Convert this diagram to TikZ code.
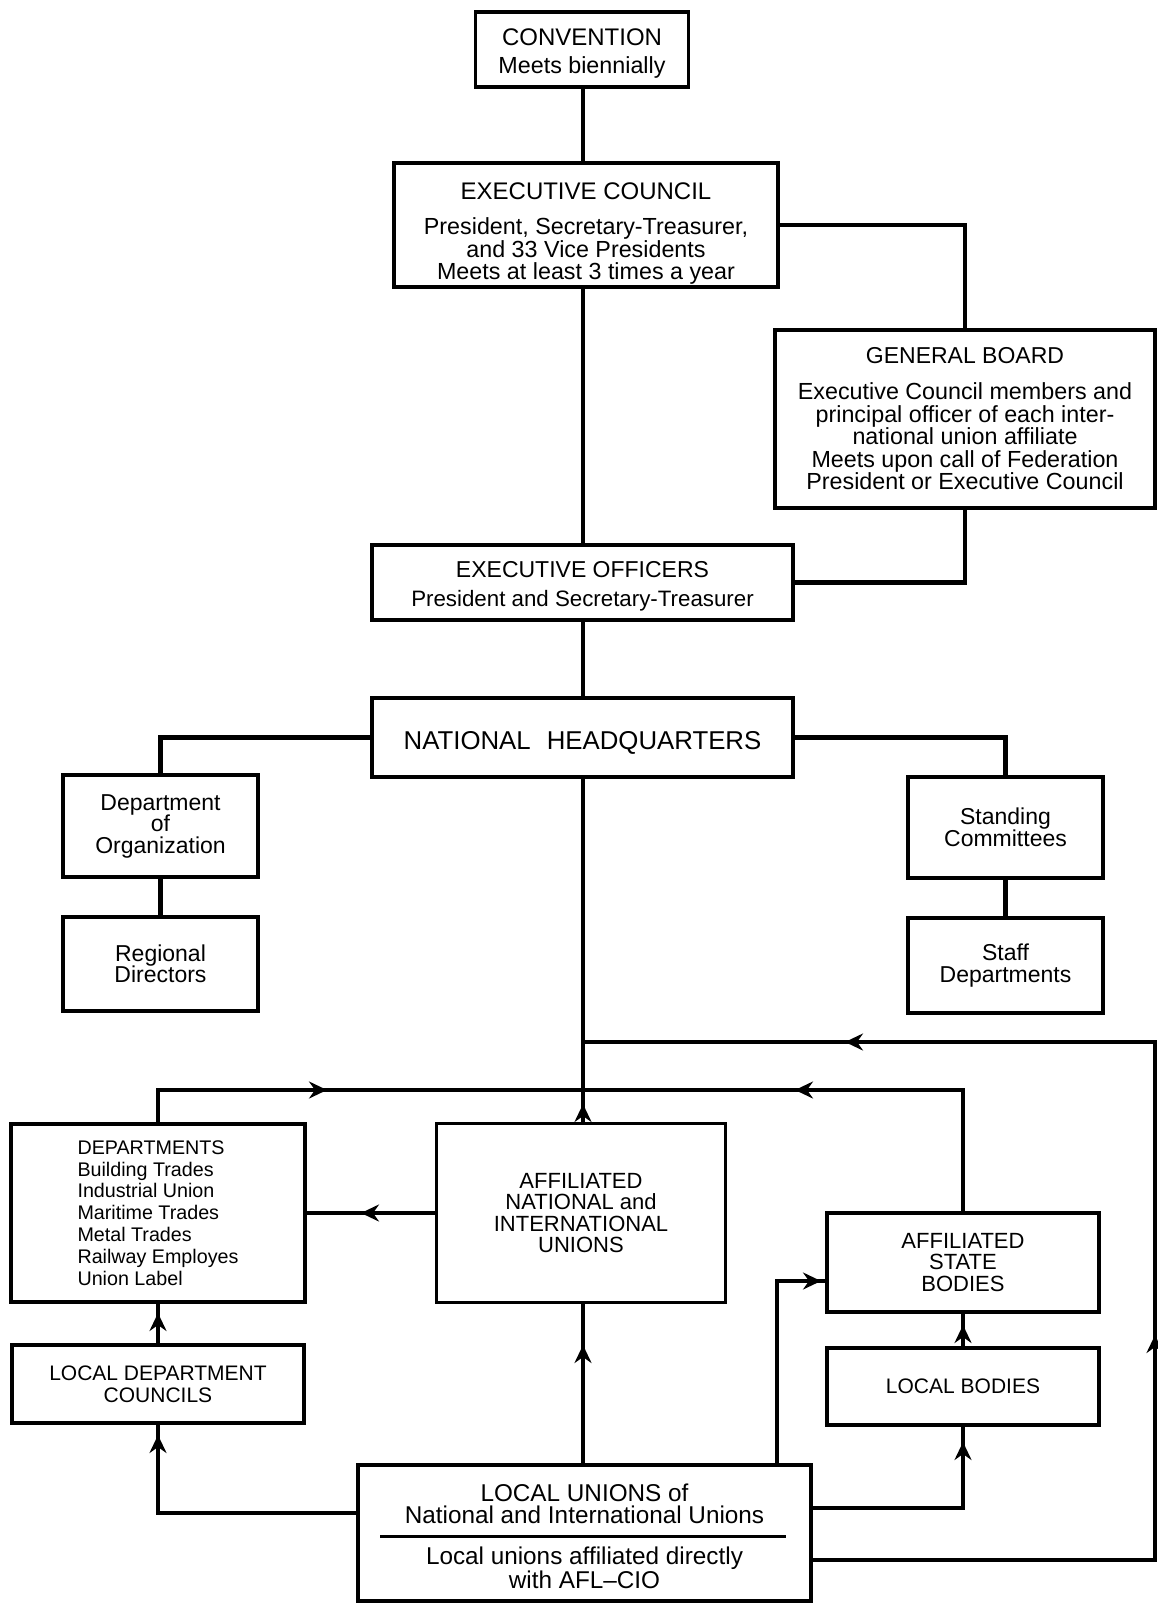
\documentclass[tikz,border=0pt]{standalone}
\usepackage{fontspec}
\setmainfont{Liberation Sans}
\usetikzlibrary{arrows.meta,calc}
\newcommand\fsz[2]{\fontsize{#1}{#2}\selectfont}
\begin{document}
\begin{tikzpicture}[x=1pt,y=-1pt,
  box/.style={draw, line width=3.5pt, inner sep=0pt, align=center, font=\fsz{23.3}{22.5}},
  frame/.style={draw, line width=3.5pt, inner sep=0pt},
  txt/.style={inner sep=0pt, align=center, font=\fsz{23.3}{22.5}},
  conn/.style={line width=4.5pt},
  arr/.style={line width=4.5pt, -{Stealth[length=18pt,width=17pt,inset=6pt]}},
  sep/.style={line width=3pt}
]
\useasboundingbox (0,0) rectangle (1157,1603);
\coordinate (axis) at (583,0);

% ---------- boxes ----------
\node[frame, minimum width=213pt, minimum height=75pt] (conv) at (582,49.5) {};
\node[txt] (convtext) at (582,53.5)
  {{\fsz{24}{22.5}CONVENTION}\\[5.5pt]Meets biennially};
\node[frame, minimum width=384pt, minimum height=124pt] (ec) at (586,225) {};
\node[txt] (ectext) at (586,234)
  {{\fsz{24}{22.5}EXECUTIVE COUNCIL}\\[12.5pt]President, Secretary-Treasurer,\\and 33 Vice Presidents\\Meets at least 3 times a year};
\node[box, minimum width=380pt, minimum height=178pt] (gb) at (965,419)
  {{\fsz{23}{22.5}GENERAL BOARD}\\[13.5pt]Executive Council members and\\principal officer of each inter-\\national union affiliate\\Meets upon call of Federation\\President or Executive Council};
\node[frame, minimum width=421pt, minimum height=75pt] (eo) at (582.5,582.5) {};
\node[txt, font=\fsz{22.3}{22.5}] (eotext) at (582.5,586.5)
  {{\fsz{23}{22.5}EXECUTIVE OFFICERS}\\[6.5pt]President and Secretary-Treasurer};
\node[frame, minimum width=421pt, minimum height=79pt] (nhq) at (582.5,737.5) {};
\node[txt, font=\fsz{25.8}{26}] (nhqtext) at (582.5,742.5)
  {NATIONAL\hspace{16pt}HEADQUARTERS};
\node[box, minimum width=195pt, minimum height=102pt, font=\fsz{23}{21.5}] (dorg) at (160.5,826)
  {Department\\of\\Organization};
\node[box, minimum width=195pt, minimum height=94pt, font=\fsz{23}{21.5}] (rd) at (160.5,964)
  {Regional\\Directors};
\node[box, minimum width=195pt, minimum height=101pt, font=\fsz{23}{21.5}] (sc) at (1005.5,827.5)
  {Standing\\Committees};
\node[box, minimum width=195pt, minimum height=95pt, font=\fsz{23}{21.5}] (sd) at (1005.5,965.5)
  {Staff\\Departments};
\node[box, minimum width=294pt, minimum height=178pt, align=left, font=\fsz{19.7}{21.8}] (dept) at (158,1213)
  {DEPARTMENTS\\Building Trades\\Industrial Union\\Maritime Trades\\Metal Trades\\Railway Employes\\Union Label};
\node[box, minimum width=292pt, minimum height=78pt, font=\fsz{21}{22}] (ldc) at (158,1384)
  {LOCAL DEPARTMENT\\COUNCILS};
\node[box, minimum width=289pt, minimum height=179pt, font=\fsz{22}{21.5}] (anu) at (581,1213)
  {AFFILIATED\\NATIONAL and\\INTERNATIONAL\\UNIONS};
\node[box, minimum width=272pt, minimum height=99pt, font=\fsz{22}{21.5}] (asb) at (963,1262.5)
  {AFFILIATED\\STATE\\BODIES};
\node[box, minimum width=272pt, minimum height=77pt, font=\fsz{21}{22}] (lb) at (963,1386.5)
  {LOCAL BODIES};
\node[frame, minimum width=453pt, minimum height=136pt] (lu) at (584.5,1533) {};
\node[txt, font=\fsz{24.3}{22}] (lutext) at (584.5,1536)
  {LOCAL UNIONS of\\National and International Unions\\[19pt]Local unions affiliated directly\\with AFL--CIO};
\draw[sep] ($(lu.north west)+(24,73)$) -- ($(lu.north east)+(-27,73)$);

% ---------- coordinates ----------
\coordinate (hl) at (158,1090);
\coordinate (hr) at (963,1090);
\coordinate (cRB) at (1155,1560);
\coordinate (cRT) at (1155,1042);
\coordinate (cLL) at (158,1513);
\coordinate (cAS) at (777,1281);
\coordinate (cLB) at (963,1508);
\coordinate (tA) at (583,1104);
\coordinate (tR1) at (1155,1335);
\coordinate (tT) at (845,1042);
\coordinate (tHL) at (327,1090);
\coordinate (tHR) at (795,1090);
\coordinate (tD) at (361,1213);
\coordinate (tLDC) at (158,1313);
\coordinate (tLU1) at (158,1435);
\coordinate (tASB) at (821,1281);
\coordinate (tLB) at (963,1442);
\coordinate (tLB2) at (963,1325);
\coordinate (tANU) at (583,1345);

% ---------- upper connectors ----------
\draw[conn] (conv.south -| axis) -- (ec.north -| axis);
\draw[conn] (ec.south -| axis) -- (eo.north -| axis);
\draw[conn] (ec.east) -| (gb.north);
\draw[conn] (gb.south) |- (eo.east);
\draw[conn] (eo.south -| axis) -- (nhq.north -| axis);
\draw[conn] (nhq.west) -| (dorg.north);
\draw[conn] (nhq.east) -| (sc.north);
\draw[conn] (dorg.south) -- (rd.north);
\draw[conn] (sc.south) -- (sd.north);
\draw[conn] (nhq.south -| axis) -- (anu.north -| axis);
\draw[arr] (anu.north -| axis) -- (tA);

% ---------- lower connectors ----------
\draw[conn] (lu.east |- cRB) -- (cRB) -- (cRT) -- (axis |- cRT);
\draw[arr] (cRB) -- (tR1);
\draw[arr] (cRT) -- (tT);

\draw[conn] (dept.north) -- (hl) -- (hr) -- (asb.north);
\draw[arr] (hl) -- (tHL);
\draw[arr] (hr) -- (tHR);

\draw[conn] (anu.west) -- (dept.east);
\draw[arr] (anu.west) -- (tD);

\draw[conn] (ldc.north) -- (dept.south);
\draw[arr] (ldc.north) -- (tLDC);

\draw[conn] (lu.west |- cLL) -- (cLL) -- (ldc.south);
\draw[arr] (cLL) -- (tLU1);

\draw[conn] (lu.north -| cAS) -- (cAS) -- (asb.west |- cAS);
\draw[arr] (cAS) -- (tASB);

\draw[conn] (lu.east |- cLB) -- (cLB) -- (lb.south);
\draw[arr] (cLB) -- (tLB);

\draw[conn] (lb.north) -- (asb.south);
\draw[arr] (lb.north) -- (tLB2);

\draw[conn] (lu.north -| axis) -- (anu.south -| axis);
\draw[arr] (lu.north -| axis) -- (tANU);
\end{tikzpicture}
\end{document}
